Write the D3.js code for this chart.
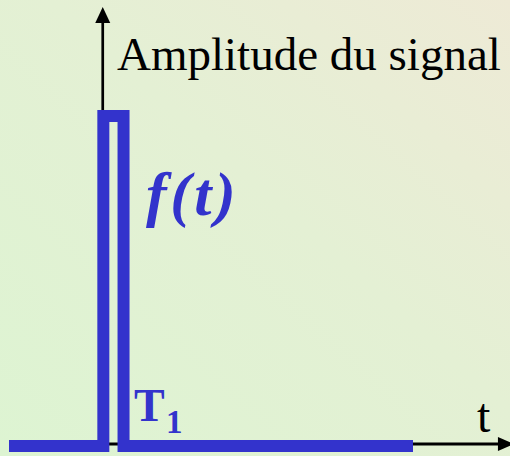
<!DOCTYPE html>
<html>
<head>
<meta charset="utf-8">
<script src="https://cdn.jsdelivr.net/npm/d3@7"></script>
<style>
  html, body { margin: 0; padding: 0; overflow: hidden; }
  text { font-family: "Liberation Serif", "Times New Roman", serif; }
</style>
</head>
<body>
<div id="wrapper"></div>
<script>
// signal: a single narrow pulse starting near t = 0.93, ending at T1
const signalTimes = [0, 0.934, 0.934, 1.134, 1.134, 4.0]
const signalAmps = [0, 0, 1, 1, 0, 0]

// axis extents (data units)
const axisTimes = [0, 4.96]
const axisAmps = [0, 1.33]

const axisLabelY = "Amplitude du signal"
const axisLabelX = "t"
const curveLabel = "f(t)"
const markLabel = "T"
const markSub = "1"

function drawChart() {

  // 1. Dimensions
  const dimensions = { width: 510, height: 456 }

  // 2. Canvas
  const svg = d3.select("#wrapper")
    .append("svg")
      .attr("width", dimensions.width)
      .attr("height", dimensions.height)

  const defs = svg.append("defs")
  const grad = defs.append("linearGradient")
      .attr("id", "bg")
      .attr("x1", "0").attr("y1", "1")
      .attr("x2", "1").attr("y2", "0")
  grad.append("stop").attr("offset", "0").attr("stop-color", "#ddf4d2")
  grad.append("stop").attr("offset", "0.55").attr("stop-color", "#e4f0d4")
  grad.append("stop").attr("offset", "1").attr("stop-color", "#eeead6")

  svg.append("rect")
      .attr("width", dimensions.width)
      .attr("height", dimensions.height)
      .attr("fill", "url(#bg)")

  // 3. Scales
  const xScale = d3.scaleLinear()
    .domain([0, 4])
    .range([9, 413])

  const yScale = d3.scaleLinear()
    .domain([0, 1])
    .range([446, 116])

  const blue = "#3333cc"

  // 4. Axes (arrows)
  const axisY0 = yScale(0) - 2
  const xAxisEnd = xScale(axisTimes[1])
  const yAxisX = xScale(signalTimes[1]) - 0.6
  const yAxisTop = yScale(axisAmps[1])

  svg.append("line")
      .attr("x1", xScale(axisTimes[0]))
      .attr("x2", xAxisEnd - 10)
      .attr("y1", axisY0)
      .attr("y2", axisY0)
      .attr("stroke", "#000")
      .attr("stroke-width", 3)
  svg.append("polygon")
      .attr("points", [
        [xAxisEnd - 12, axisY0 - 7],
        [xAxisEnd + 4, axisY0],
        [xAxisEnd - 12, axisY0 + 7]
      ].join(" "))
      .attr("fill", "#000")

  svg.append("line")
      .attr("x1", yAxisX)
      .attr("x2", yAxisX)
      .attr("y1", yScale(0))
      .attr("y2", yAxisTop + 12)
      .attr("stroke", "#000")
      .attr("stroke-width", 2.7)
  svg.append("polygon")
      .attr("points", [
        [yAxisX - 7.5, yAxisTop + 16],
        [yAxisX, yAxisTop],
        [yAxisX + 7.5, yAxisTop + 16]
      ].join(" "))
      .attr("fill", "#000")

  // 5. Signal
  const line = d3.line()
    .x((d, i) => xScale(signalTimes[i]))
    .y(d => yScale(d))

  svg.append("path")
      .datum(signalAmps)
      .attr("d", line)
      .attr("fill", "none")
      .attr("stroke", blue)
      .attr("stroke-width", 12)
      .attr("stroke-linejoin", "miter")

  // 6. Labels
  svg.append("text")
      .attr("x", 117)
      .attr("y", 70)
      .attr("font-size", 47)
      .attr("fill", "#000")
      .text(axisLabelY)

  svg.append("text")
      .attr("x", 477)
      .attr("y", 432)
      .attr("font-size", 48)
      .attr("fill", "#000")
      .text(axisLabelX)

  svg.append("text")
      .attr("x", 146)
      .attr("y", 215)
      .attr("font-size", 62)
      .attr("font-weight", "bold")
      .attr("font-style", "italic")
      .attr("letter-spacing", 3.5)
      .attr("fill", blue)
      .text(curveLabel)

  const tLabel = svg.append("text")
      .attr("x", 134)
      .attr("y", 421)
      .attr("font-size", 46)
      .attr("font-weight", "bold")
      .attr("fill", blue)
  tLabel.append("tspan").text(markLabel)
  tLabel.append("tspan")
      .attr("x", 166)
      .attr("y", 433)
      .attr("font-size", 33)
      .text(markSub)
}
drawChart()
</script>
</body>
</html>
